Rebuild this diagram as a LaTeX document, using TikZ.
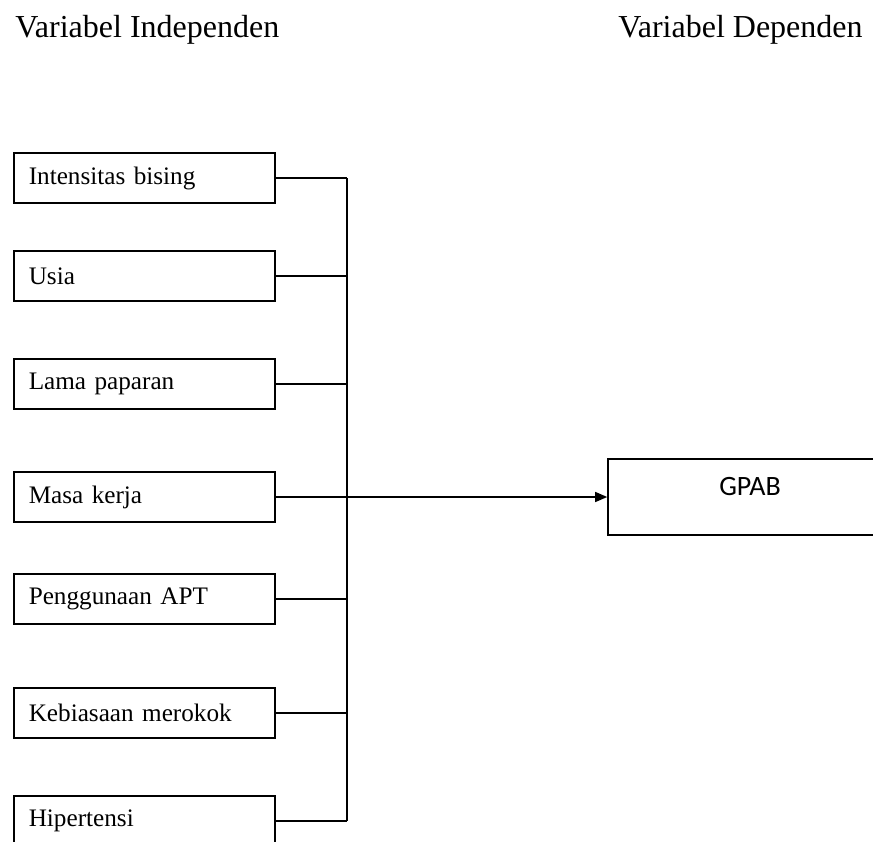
\documentclass[tikz,border=0pt]{standalone}
\usepackage{fontspec}
\setmainfont{Liberation Serif}
\newfontfamily\gpabfont{Carlito}
\usepackage{tikz}
\usetikzlibrary{arrows.meta}
\usetikzlibrary{calc}
\tikzstyle{var} = [rectangle, draw, line width=0.8pt, anchor=west, inner xsep=7.5pt, inner ysep=0pt, text width=115.5pt, align=left, minimum height=25pt, font=\fontsize{12.6}{14}\selectfont]
\tikzstyle{dep} = [rectangle, draw, line width=0.8pt, minimum width=142pt, minimum height=38pt, inner sep=0pt, text depth=11pt, font=\gpabfont\fontsize{14}{16}\selectfont]
\tikzstyle{head} = [inner sep=0pt, font=\fontsize{16}{19}\selectfont]
\tikzstyle{wire} = [line width=0.7pt]

\begin{document}
\begin{tikzpicture}
    [x=0.5pt, y=-0.5pt]
    \useasboundingbox (0,0) rectangle (873,841);
    \node[head, anchor=base west] (indep) at (15,37) {Variabel Independen};
    \node[head, anchor=base east] (depen) at (863,37) {Variabel Dependen};
    % independent variables
    \node[var] (bising) at (13,178) {Intensitas bising};
    \node[var] (usia) at (13,276) {Usia};
    \node[var] (lama) at (13,384) {Lama paparan};
    \node[var] (masa) at (13,497) {Masa kerja};
    \node[var] (apt) at (13,599) {Penggunaan APT};
    \node[var] (rokok) at (13,713) {Kebiasaan merokok};
    \node[var] (hiper) at (13,821) {Hipertensi};
    % dependent variable
    \node[dep] (gpab) at (750,497) {GPAB};
    % collecting line
    \coordinate (bustop) at (347,178);
    \coordinate (busbot) at (347,821);
    \draw[wire] (bustop) -- (busbot);
    \draw[wire] (bising.east) -- (bising.east -| bustop);
    \draw[wire] (usia.east) -- (usia.east -| bustop);
    \draw[wire] (lama.east) -- (lama.east -| bustop);
    \draw[wire] (apt.east) -- (apt.east -| bustop);
    \draw[wire] (rokok.east) -- (rokok.east -| bustop);
    \draw[wire] (hiper.east) -- (hiper.east -| bustop);
    \draw[wire, -{Triangle[length=6pt, width=5pt]}] (masa.east) -- (gpab.west);
  \end{tikzpicture}
\end{document}
